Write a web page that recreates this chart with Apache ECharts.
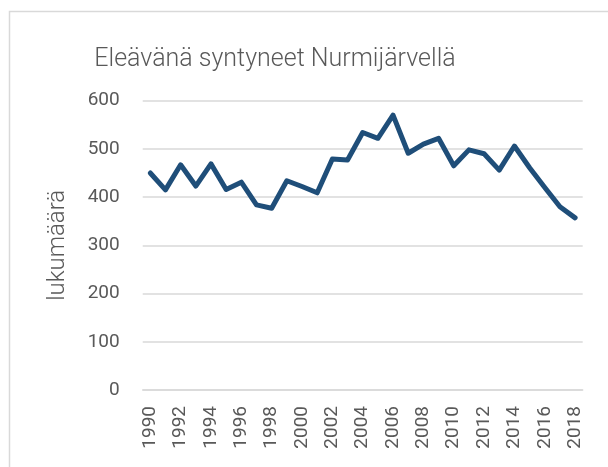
<!DOCTYPE html>
<html><head><meta charset="utf-8">
<script src="https://cdn.jsdelivr.net/npm/echarts@6/dist/echarts.min.js"></script>
<style>html,body{margin:0;padding:0;background:#fff}#c{width:608px;height:467px}</style>
</head><body><div id="c"></div>
<script>
var years = ['1990','1991','1992','1993','1994','1995','1996','1997','1998','1999','2000','2001','2002','2003','2004','2005','2006','2007','2008','2009','2010','2011','2012','2013','2014','2015','2016','2017','2018'];
var births = [450,415,467,423,469,416,431,384,377,434,422,409,479,477,534,522,570,491,510,522,465,498,490,456,506,461,420,380,357];
var title = 'Eleävänä syntyneet Nurmijärvellä';
var yName = 'lukumäärä';

var chart = echarts.init(document.getElementById('c'), null, {renderer:'canvas'});
chart.setOption({
  animation:false,
  graphic:[{type:'rect', shape:{x:9.5,y:11.5,width:620,height:480}, style:{fill:'none', stroke:'#d9d9d9', lineWidth:1.5}}],
  title:{text:title, left:275, top:42, textAlign:'center',
    textStyle:{fontFamily:'Roboto', fontWeight:300, fontSize:25, color:'#595959'}},
  grid:{left:142.7, right:25.3, top:100.7, bottom:77},
  xAxis:{type:'category', data:years, boundaryGap:true,
    axisLine:{lineStyle:{color:'#d9d9d9', width:1.5}}, axisTick:{show:false},
    axisLabel:{rotate:90, interval:1, color:'#595959', fontSize:19, fontFamily:'Roboto', margin:16}},
  yAxis:{type:'value', min:0, max:600, interval:100, name:yName, nameLocation:'middle', nameGap:73,
    nameTextStyle:{fontSize:24, fontWeight:300, color:'#595959', fontFamily:'Roboto'},
    axisLine:{show:false}, axisTick:{show:false},
    splitLine:{lineStyle:{color:'#d9d9d9', width:1.5}},
    axisLabel:{color:'#595959', fontSize:19, fontFamily:'Roboto', margin:23}},
  series:[{type:'line', data:births, symbol:'none', lineStyle:{color:'#1f4e79', width:5, join:'round', cap:'round'}}]
});
chart.setOption({title:{left:270}});
</script></body></html>
